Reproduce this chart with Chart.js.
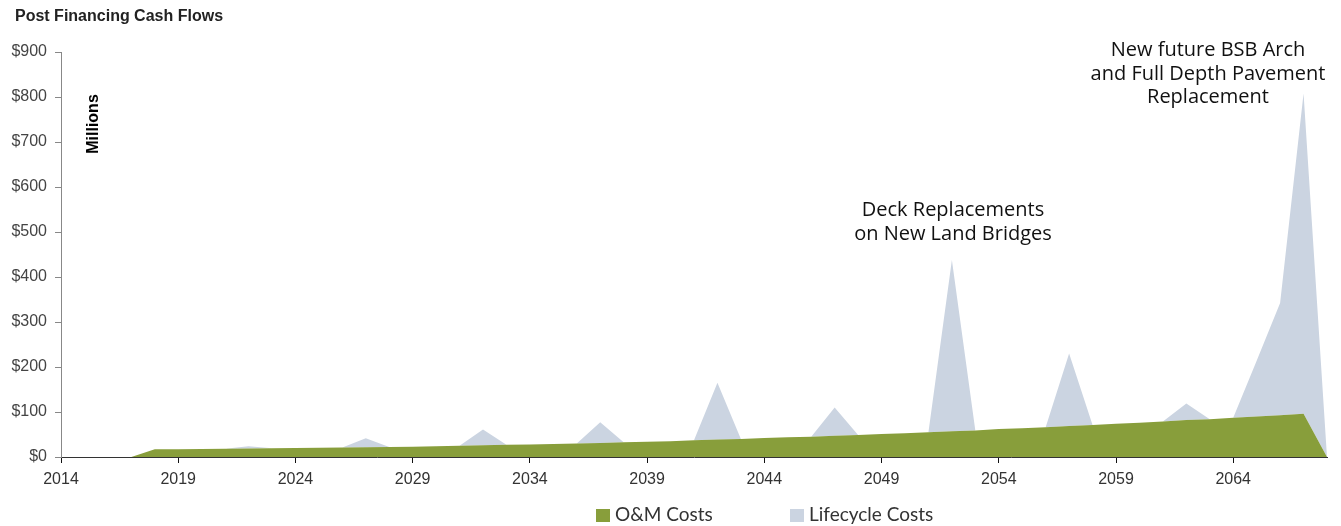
<!DOCTYPE html>
<html>
<head>
<meta charset="utf-8">
<title>Post Financing Cash Flows</title>
<script src="https://cdn.jsdelivr.net/npm/chart.js@4/dist/chart.umd.min.js"></script>
<style>
    body { margin: 0; background: #fff; }
    canvas { display: block; }
</style>
</head>
<body>
<canvas id="cash-chart" width="1341" height="526"></canvas>
<script>
// $ millions per year
const years = [
    2014, 2015, 2016, 2017, 2018, 2019, 2020, 2021, 2022, 2023,
    2024, 2025, 2026, 2027, 2028, 2029, 2030, 2031, 2032, 2033,
    2034, 2035, 2036, 2037, 2038, 2039, 2040, 2041, 2042, 2043,
    2044, 2045, 2046, 2047, 2048, 2049, 2050, 2051, 2052, 2053,
    2054, 2055, 2056, 2057, 2058, 2059, 2060, 2061, 2062, 2063,
    2064, 2065, 2066, 2067, 2068
];
const omCosts = [
    0, 0, 0, 0, 17, 17.5, 18, 18.5, 19, 19.5,
    20, 20.5, 21, 21.5, 22, 23, 24, 25, 26, 27,
    28, 29, 30, 31, 33, 34, 35, 37, 39, 40,
    42, 44, 45, 47, 49, 51, 53, 55, 57, 59,
    62, 64, 66, 69, 71, 74, 76, 79, 82, 84,
    87, 90, 93, 96, 0
];
const lifecycleCosts = [
    0, 0, 0, 0, 0, 0, 0, 0, 5, 0,
    0, 0, 0, 20, 0, 0, 0, 0, 35, 0,
    0, 0, 0, 46, 0, 0, 0, 0, 126, 0,
    0, 0, 0, 63, 0, 0, 0, 0, 381, 0,
    0, 0, 0, 161, 0, 0, 0, 0, 37, 0,
    0, 124, 249, 712, 0
];
const tickYears = [2014, 2019, 2024, 2029, 2034, 2039, 2044, 2049, 2054, 2059, 2064];
const notes = [
    { lines: ['Deck Replacements', 'on New Land Bridges'], x: 953, y: 216 },
    { lines: ['New future BSB Arch', 'and Full Depth Pavement', 'Replacement'], x: 1208, y: 56 }
];

const omColor = '#889e3b';
const lifeColor = '#cbd4e1';
const tickFont = { family: '"Liberation Sans", Arial, sans-serif', size: 16 };

function toPoints(values) {
    return values.map(function(v, i) {
        return { x: years[i], y: v };
    });
}

// title, rotated unit label, callouts and the legend row
const extras = {
    id: 'extras',
    afterDraw: function(chart) {
        const ctx = chart.ctx;
        ctx.save();

        ctx.fillStyle = '#222';
        ctx.font = 'bold 16px "Liberation Sans", Arial, sans-serif';
        ctx.textAlign = 'left';
        ctx.textBaseline = 'alphabetic';
        ctx.fillText('Post Financing Cash Flows', 15, 21);

        ctx.save();
        ctx.translate(98, 124);
        ctx.rotate(-Math.PI / 2);
        ctx.font = 'bold 16px "Liberation Sans", Arial, sans-serif';
        ctx.textAlign = 'center';
        ctx.fillStyle = '#000';
        ctx.fillText('Millions', 0, 0);
        ctx.restore();

        ctx.fillStyle = '#111';
        ctx.font = '20px "Open Sans", sans-serif';
        ctx.textAlign = 'center';
        notes.forEach(function(note) {
            note.lines.forEach(function(line, i) {
                ctx.fillText(line, note.x, note.y + i * 23.7);
            });
        });

        // legend
        ctx.font = '19px Lato, "Open Sans", sans-serif';
        ctx.textAlign = 'left';
        ctx.textBaseline = 'middle';
        const legendX = [596, 790];
        chart.data.datasets.forEach(function(ds, i) {
            ctx.fillStyle = ds.backgroundColor;
            ctx.fillRect(legendX[i], 509, 14, 13);
            ctx.fillStyle = '#333';
            ctx.fillText(ds.label, legendX[i] + 19, 515);
        });

        ctx.restore();
    }
};

const cashChart = new Chart(document.getElementById('cash-chart'), {
    type: 'line',
    data: {
        datasets: [{
            label: 'O&M Costs',
            data: toPoints(omCosts),
            backgroundColor: omColor,
            fill: 'origin',
            borderWidth: 0,
            pointRadius: 0,
            tension: 0
        }, {
            label: 'Lifecycle Costs',
            data: toPoints(lifecycleCosts),
            backgroundColor: lifeColor,
            fill: '-1',
            borderWidth: 0,
            pointRadius: 0,
            tension: 0
        }]
    },
    options: {
        responsive: false,
        animation: false,
        layout: {
            padding: { top: 52, right: 14, bottom: 35, left: 0 }
        },
        scales: {
            x: {
                type: 'linear',
                min: 2014,
                max: 2068,
                afterBuildTicks: function(axis) {
                    axis.ticks = tickYears.map(function(v) {
                        return { value: v };
                    });
                },
                afterFit: function(axis) {
                    axis.height = 34;
                },
                ticks: {
                    color: '#333',
                    font: tickFont,
                    padding: 7,
                    maxRotation: 0,
                    callback: function(v) {
                        return String(v);
                    }
                },
                grid: {
                    drawOnChartArea: false,
                    drawTicks: true,
                    tickLength: 6,
                    color: '#111'
                },
                border: { display: true, color: '#333', width: 1 }
            },
            y: {
                stacked: true,
                min: 0,
                max: 900,
                afterFit: function(axis) {
                    axis.width = 61;
                },
                ticks: {
                    stepSize: 100,
                    color: '#444',
                    font: tickFont,
                    padding: 8,
                    callback: function(v) {
                        return '$' + v;
                    }
                },
                grid: {
                    drawOnChartArea: false,
                    drawTicks: true,
                    tickLength: 6,
                    color: '#888'
                },
                border: { display: true, color: '#888', width: 1 }
            }
        },
        plugins: {
            legend: { display: false },
            tooltip: { enabled: false }
        }
    },
    plugins: [extras]
});
</script>
</body>
</html>
